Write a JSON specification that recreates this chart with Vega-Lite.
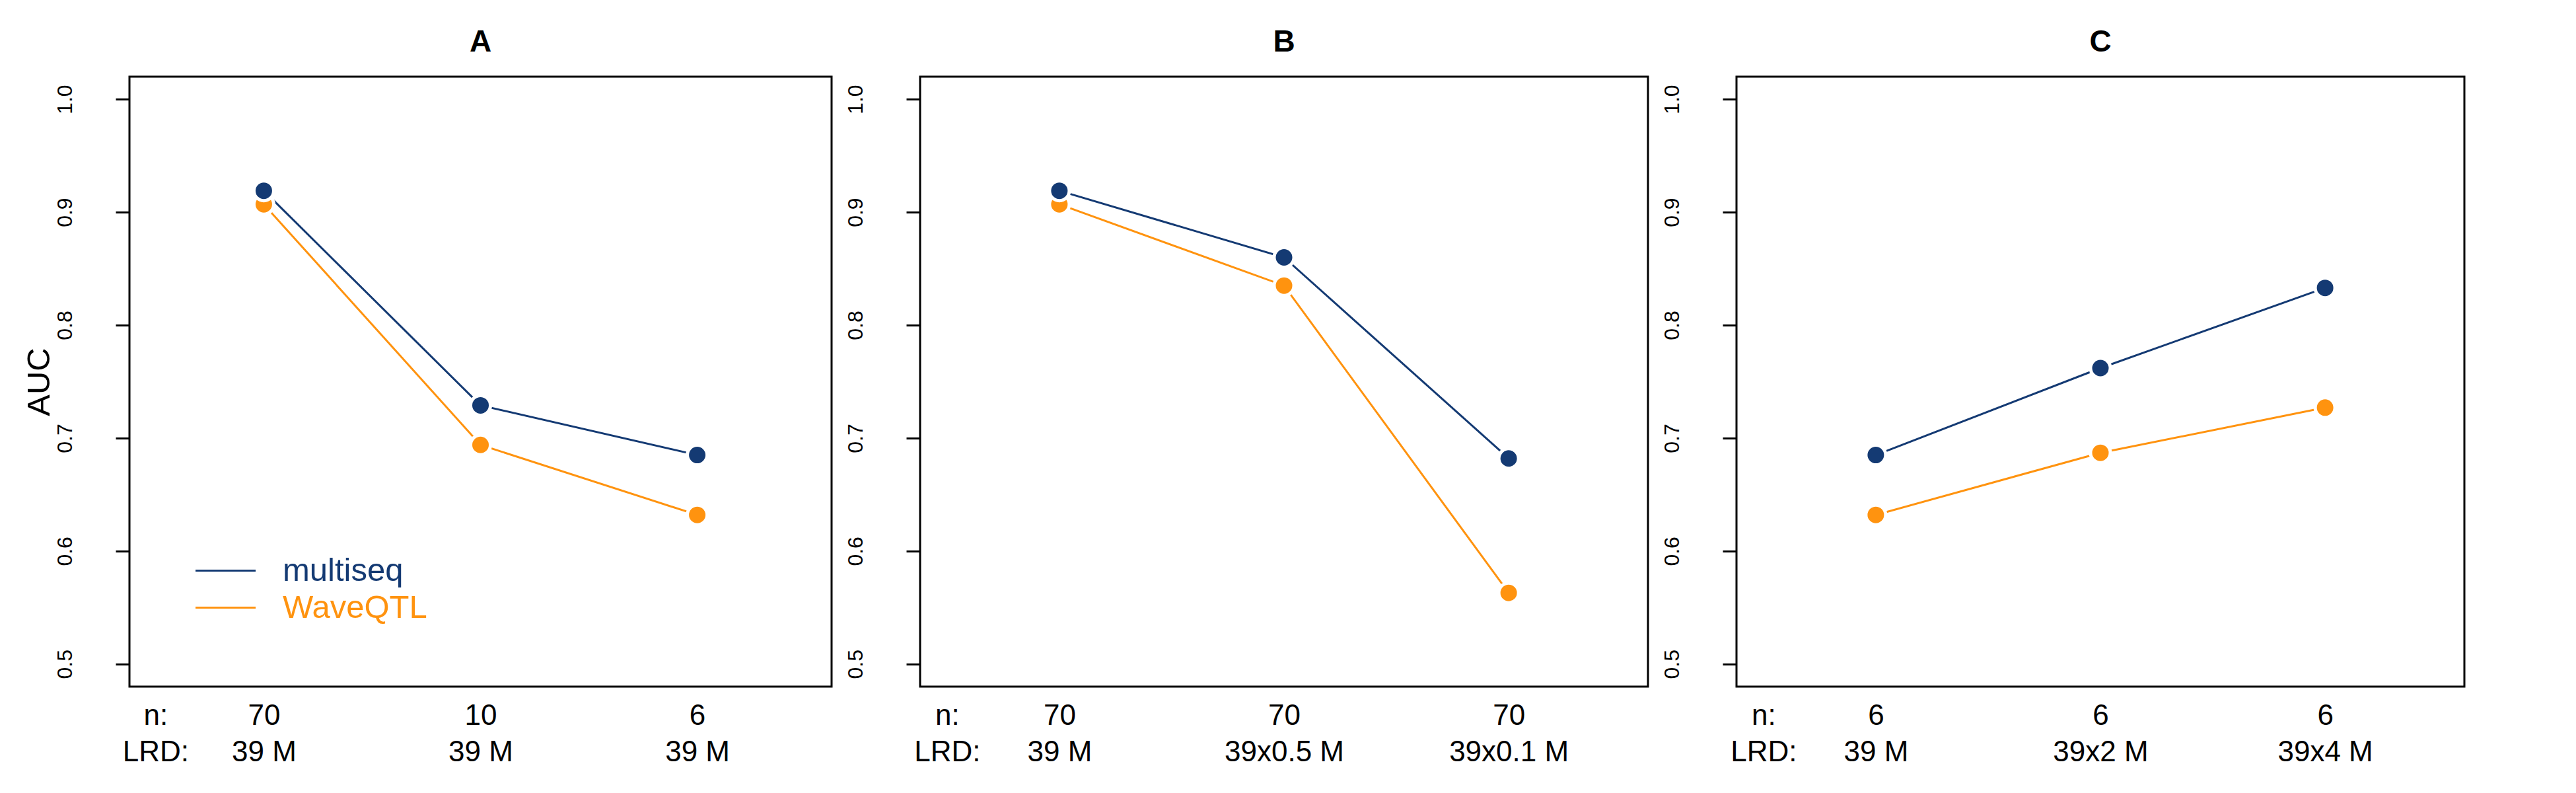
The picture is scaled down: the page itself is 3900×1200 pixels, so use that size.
{
  "$schema": "https://vega.github.io/schema/vega-lite/v6.json",
  "background": "white",
  "padding": {"left": 33, "top": 39, "right": 10, "bottom": 10},
  "datasets": {
    "auc": [
      {"panel": "A", "method": "WaveQTL", "x": 1, "n": "70", "lrd": "39 M", "auc": 0.907},
      {"panel": "A", "method": "WaveQTL", "x": 2, "n": "10", "lrd": "39 M", "auc": 0.694},
      {"panel": "A", "method": "WaveQTL", "x": 3, "n": "6", "lrd": "39 M", "auc": 0.632},
      {"panel": "A", "method": "multiseq", "x": 1, "n": "70", "lrd": "39 M", "auc": 0.919},
      {"panel": "A", "method": "multiseq", "x": 2, "n": "10", "lrd": "39 M", "auc": 0.729},
      {"panel": "A", "method": "multiseq", "x": 3, "n": "6", "lrd": "39 M", "auc": 0.685},
      {"panel": "B", "method": "WaveQTL", "x": 1, "n": "70", "lrd": "39 M", "auc": 0.907},
      {"panel": "B", "method": "WaveQTL", "x": 2, "n": "70", "lrd": "39x0.5 M", "auc": 0.835},
      {"panel": "B", "method": "WaveQTL", "x": 3, "n": "70", "lrd": "39x0.1 M", "auc": 0.563},
      {"panel": "B", "method": "multiseq", "x": 1, "n": "70", "lrd": "39 M", "auc": 0.919},
      {"panel": "B", "method": "multiseq", "x": 2, "n": "70", "lrd": "39x0.5 M", "auc": 0.860},
      {"panel": "B", "method": "multiseq", "x": 3, "n": "70", "lrd": "39x0.1 M", "auc": 0.682},
      {"panel": "C", "method": "WaveQTL", "x": 1, "n": "6", "lrd": "39 M", "auc": 0.632},
      {"panel": "C", "method": "WaveQTL", "x": 2, "n": "6", "lrd": "39x2 M", "auc": 0.687},
      {"panel": "C", "method": "WaveQTL", "x": 3, "n": "6", "lrd": "39x4 M", "auc": 0.727},
      {"panel": "C", "method": "multiseq", "x": 1, "n": "6", "lrd": "39 M", "auc": 0.685},
      {"panel": "C", "method": "multiseq", "x": 2, "n": "6", "lrd": "39x2 M", "auc": 0.762},
      {"panel": "C", "method": "multiseq", "x": 3, "n": "6", "lrd": "39x4 M", "auc": 0.833}
    ]
  },
  "config": {
    "font": "Liberation Sans",
    "view": {"stroke": "black", "strokeWidth": 3},
    "axis": {"grid": false, "labelColor": "black", "labelFont": "Liberation Sans", "titleColor": "black", "titleFont": "Liberation Sans", "titleFontWeight": "normal", "labelLimit": 0},
    "title": {"font": "Liberation Sans", "fontSize": 46, "fontWeight": "bold", "anchor": "middle", "frame": "group", "offset": 28, "baseline": "alphabetic", "color": "black"}
  },
  "spacing": 16,
  "resolve": {"scale": {"color": "independent", "fill": "independent"}, "legend": {"color": "independent", "fill": "independent"}},
  "hconcat": [
    {
      "width": 1063,
      "height": 923,
      "title": "A",
      "data": {"name": "auc"},
      "transform": [{"filter": "datum.panel === 'A'"}],
      "encoding": {
        "x": {"field": "x", "type": "quantitative", "scale": {"domain": [0.38, 3.62], "nice": false, "zero": false},
          "axis": {"values": [0.5, 1, 2, 3], "ticks": false, "tickSize": 0, "domain": false, "title": null, "labelAngle": 0, "labelFontSize": 44, "labelLineHeight": 55, "labelBaseline": "alphabetic", "labelPadding": 57, "labelOverlap": false, "labelFlush": false, "labelLimit": 0,
            "labelExpr": "datum.value == 0.5 ? ['n:', 'LRD:'] : datum.value == 1 ? ['70', '39 M'] : datum.value == 2 ? ['10', '39 M'] : ['6', '39 M']"}},
        "y": {"field": "auc", "type": "quantitative", "scale": {"domain": [0.48, 1.02], "nice": false, "zero": false},
          "axis": {"values": [0.5, 0.6, 0.7, 0.8, 0.9, 1.0], "format": ".1f", "tickSize": 21, "tickWidth": 3, "tickColor": "black", "domain": false, "labelAngle": -90, "labelAlign": "center", "labelBaseline": "alphabetic", "labelPadding": 67, "labelFontSize": 32,
            "title": "AUC", "titleFontSize": 49, "titleAngle": -90, "titleAlign": "center", "titleBaseline": "alphabetic", "titleX": -122, "titleY": 461.5}}
      },
      "layer": [
        {"mark": {"type": "line", "strokeWidth": 3},
         "encoding": {"color": {"field": "method", "type": "nominal", "sort": ["multiseq", "WaveQTL"],
           "scale": {"domain": ["multiseq", "WaveQTL"], "range": ["#143A73", "#FF930F"]},
           "legend": {"orient": "none", "legendX": 121, "legendY": 723, "title": null, "symbolType": "M-2,0H2", "symbolSize": 2070, "symbolStrokeWidth": 3, "labelFontSize": 49, "labelFont": "Liberation Sans", "labelOffset": 62, "labelLimit": 0, "rowPadding": 6, "padding": 0, "labelBaseline": "middle",
             "encode": {"labels": {"update": {"fill": {"signal": "datum.label === 'multiseq' ? '#143A73' : '#FF930F'"}}}}}}}},
        {"mark": {"type": "point", "filled": true, "size": 900, "stroke": "white", "strokeWidth": 5, "opacity": 1},
         "encoding": {"fill": {"field": "method", "type": "nominal", "scale": {"domain": ["multiseq", "WaveQTL"], "range": ["#143A73", "#FF930F"]}, "legend": null}}}
      ]
    },
    {
      "width": 1102,
      "height": 923,
      "title": "B",
      "data": {"name": "auc"},
      "transform": [{"filter": "datum.panel === 'B'"}],
      "encoding": {
        "x": {"field": "x", "type": "quantitative", "scale": {"domain": [0.38, 3.62], "nice": false, "zero": false},
          "axis": {"values": [0.5, 1, 2, 3], "ticks": false, "tickSize": 0, "domain": false, "title": null, "labelAngle": 0, "labelFontSize": 44, "labelLineHeight": 55, "labelBaseline": "alphabetic", "labelPadding": 57, "labelOverlap": false, "labelFlush": false, "labelLimit": 0,
            "labelExpr": "datum.value == 0.5 ? ['n:', 'LRD:'] : datum.value == 1 ? ['70', '39 M'] : datum.value == 2 ? ['70', '39x0.5 M'] : ['70', '39x0.1 M']"}},
        "y": {"field": "auc", "type": "quantitative", "scale": {"domain": [0.48, 1.02], "nice": false, "zero": false},
          "axis": {"values": [0.5, 0.6, 0.7, 0.8, 0.9, 1.0], "format": ".1f", "tickSize": 21, "tickWidth": 3, "tickColor": "black", "domain": false, "labelAngle": -90, "labelAlign": "center", "labelBaseline": "alphabetic", "labelPadding": 67, "labelFontSize": 32, "title": null}}
      },
      "layer": [
        {"mark": {"type": "line", "strokeWidth": 3},
         "encoding": {"color": {"field": "method", "type": "nominal", "scale": {"domain": ["multiseq", "WaveQTL"], "range": ["#143A73", "#FF930F"]}, "legend": null}}},
        {"mark": {"type": "point", "filled": true, "size": 900, "stroke": "white", "strokeWidth": 5, "opacity": 1},
         "encoding": {"fill": {"field": "method", "type": "nominal", "scale": {"domain": ["multiseq", "WaveQTL"], "range": ["#143A73", "#FF930F"]}, "legend": null}}}
      ]
    },
    {
      "width": 1102,
      "height": 923,
      "title": "C",
      "data": {"name": "auc"},
      "transform": [{"filter": "datum.panel === 'C'"}],
      "encoding": {
        "x": {"field": "x", "type": "quantitative", "scale": {"domain": [0.38, 3.62], "nice": false, "zero": false},
          "axis": {"values": [0.5, 1, 2, 3], "ticks": false, "tickSize": 0, "domain": false, "title": null, "labelAngle": 0, "labelFontSize": 44, "labelLineHeight": 55, "labelBaseline": "alphabetic", "labelPadding": 57, "labelOverlap": false, "labelFlush": false, "labelLimit": 0,
            "labelExpr": "datum.value == 0.5 ? ['n:', 'LRD:'] : datum.value == 1 ? ['6', '39 M'] : datum.value == 2 ? ['6', '39x2 M'] : ['6', '39x4 M']"}},
        "y": {"field": "auc", "type": "quantitative", "scale": {"domain": [0.48, 1.02], "nice": false, "zero": false},
          "axis": {"values": [0.5, 0.6, 0.7, 0.8, 0.9, 1.0], "format": ".1f", "tickSize": 21, "tickWidth": 3, "tickColor": "black", "domain": false, "labelAngle": -90, "labelAlign": "center", "labelBaseline": "alphabetic", "labelPadding": 67, "labelFontSize": 32, "title": null}}
      },
      "layer": [
        {"mark": {"type": "line", "strokeWidth": 3},
         "encoding": {"color": {"field": "method", "type": "nominal", "scale": {"domain": ["multiseq", "WaveQTL"], "range": ["#143A73", "#FF930F"]}, "legend": null}}},
        {"mark": {"type": "point", "filled": true, "size": 900, "stroke": "white", "strokeWidth": 5, "opacity": 1},
         "encoding": {"fill": {"field": "method", "type": "nominal", "scale": {"domain": ["multiseq", "WaveQTL"], "range": ["#143A73", "#FF930F"]}, "legend": null}}}
      ]
    }
  ]
}
